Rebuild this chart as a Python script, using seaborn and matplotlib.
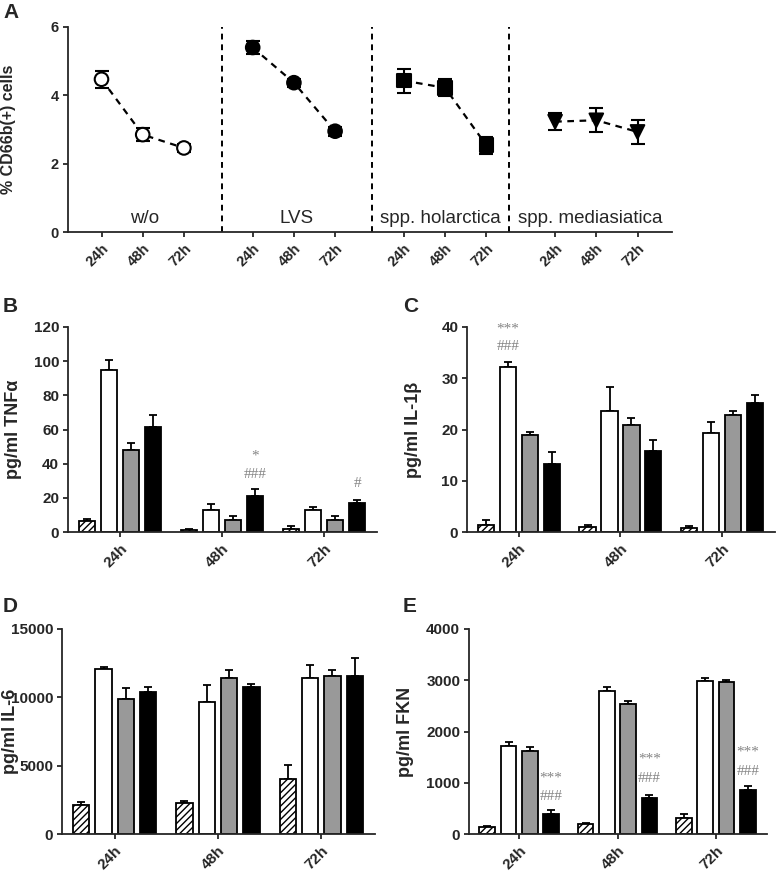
import numpy as np
import pandas as pd
import matplotlib
matplotlib.use('Agg')
import matplotlib.pyplot as plt
import seaborn as sns

# ---- data: panel A (% CD66b+ cells) ----
a_groups = ['w/o', 'LVS', 'spp. holarctica', 'spp. mediasiatica']
a_times = ['24h', '48h', '72h']
a_wo_mean = [4.47, 2.85, 2.46]
a_wo_err = [0.25, 0.20, 0.13]
a_lvs_mean = [5.40, 4.37, 2.95]
a_lvs_err = [0.18, 0.12, 0.13]
a_hol_mean = [4.43, 4.22, 2.54]
a_hol_err = [0.35, 0.25, 0.25]
a_med_mean = [3.23, 3.27, 2.93]
a_med_err = [0.25, 0.35, 0.34]

# ---- data: bar panels (rows = condition, cols = time) ----
times = ['24h', '48h', '72h']
conds = ['ctrl', 'w/o', 'LVS', 'holarctica']
tnf_mean = [[6.3, 1.0, 2.0], [94.9, 13.1, 12.7], [47.8, 7.1, 7.3], [61.2, 21.0, 17.0]]
tnf_err = [[1.5, 0.6, 1.7], [5.9, 3.1, 2.0], [4.1, 2.1, 2.3], [7.5, 3.9, 2.0]]
il1b_mean = [[1.4, 0.9, 0.85], [32.2, 23.7, 19.4], [19.0, 20.9, 22.8], [13.3, 15.9, 25.2]]
il1b_err = [[1.0, 0.4, 0.25], [1.0, 4.5, 2.1], [0.6, 1.3, 0.9], [2.4, 2.1, 1.6]]
il6_mean = [[2120, 2240, 4020], [12100, 9680, 11440], [9850, 11440, 11590], [10420, 10780, 11560]]
il6_err = [[220, 195, 1025], [150, 1240, 900], [830, 540, 440], [320, 195, 1320]]
fkn_mean = [[130, 195, 318], [1708, 2792, 2990], [1617, 2532, 2968], [390, 708, 864]]
fkn_err = [[20, 20, 78], [85, 85, 45], [90, 65, 45], [85, 58, 71]]

# significance marks: (condition index, time index, text, y)
tnf_marks = [(3, 1, '*', 44.5), (3, 1, '###', 33.7), (3, 2, '#', 28.5)]
il1b_marks = [(1, 0, '***', 39.6), (1, 0, '###', 36.2)]
fkn_marks = [(3, 0, '***', 1090), (3, 0, '###', 735), (3, 1, '***', 1460),
             (3, 1, '###', 1090), (3, 2, '***', 1590), (3, 2, '###', 1220)]

sns.set_style('ticks')
plt.rcParams['font.family'] = ['Liberation Sans', 'DejaVu Sans']
plt.rcParams['hatch.linewidth'] = 1.0
plt.rcParams['hatch.color'] = 'black'
plt.rcParams['axes.linewidth'] = 1.3
plt.rcParams['xtick.major.width'] = 1.3
plt.rcParams['ytick.major.width'] = 1.3
plt.rcParams['xtick.major.size'] = 3.8
plt.rcParams['ytick.major.size'] = 3.8
plt.rcParams['ytick.major.pad'] = 2.5
plt.rcParams['xtick.major.pad'] = 3

W, H = 778, 873
fig = plt.figure(figsize=(W / 100, H / 100), dpi=100)


def box(l, r, t, b):
    return [l / W, 1 - b / H, (r - l) / W, (b - t) / H]


def place_ylabel(ax, l, r, x_px):
    # x_px is the right edge of the rotated label, in figure pixels
    ax.yaxis.set_label_coords((x_px - l) / (r - l), 0.5)


# ---- panel A ----
aL, aR = 67.5, 672
axA = fig.add_axes(box(aL, aR, 27, 232))
offset = 3.67
means = [a_wo_mean, a_lvs_mean, a_hol_mean, a_med_mean]
errs = [a_wo_err, a_lvs_err, a_hol_err, a_med_err]
rows = []
for g, name in enumerate(a_groups):
    for t in range(3):
        rows.append({'x': g * offset + t, 'y': means[g][t], 'err': errs[g][t],
                     'group': name, 'time': a_times[t]})
dfa = pd.DataFrame(rows)

axA.errorbar(dfa['x'], dfa['y'], yerr=dfa['err'], fmt='none', ecolor='black',
             elinewidth=1.5, capsize=4.7, capthick=1.5, zorder=2)
sns.lineplot(data=dfa, x='x', y='y', units='group', estimator=None, color='black',
             lw=1.6, ax=axA, zorder=1, legend=False)
for ln in axA.get_lines():
    if ln.get_linestyle() == '-':
        ln.set_linestyle((0, (3, 2.5)))
sns.scatterplot(data=dfa, x='x', y='y', hue='group', style='group',
                markers={'w/o': 'o', 'LVS': 'o', 'spp. holarctica': 's', 'spp. mediasiatica': 'v'},
                palette={'w/o': 'white', 'LVS': 'black', 'spp. holarctica': 'black',
                         'spp. mediasiatica': 'black'},
                edgecolor='black', linewidth=1.5, s=95, ax=axA, zorder=3, legend=False)

sep_x = [2.92, 6.57, 9.89]
for sx in sep_x:
    axA.axvline(sx, color='black', linestyle=(0, (3, 2.5)), lw=1.4, zorder=0)
unit = 41.2
xl = ((aL - 101.5) / unit, (aR - 101.5) / unit)
bounds = [xl[0]] + sep_x + [xl[1]]
for g, name in enumerate(a_groups):
    axA.text((bounds[g] + bounds[g + 1]) / 2, 0.40, name, ha='center', va='center',
             fontsize=13.5)
axA.set_xlim(*xl)
axA.set_ylim(0, 6)
axA.set_yticks([0, 2, 4, 6])
axA.set_xticks(dfa['x'])
axA.set_xticklabels(dfa['time'], rotation=45, ha='right', rotation_mode='anchor',
                    fontsize=10.5, fontweight='bold')
axA.tick_params(axis='y', labelsize=10.5)
for lab in axA.get_yticklabels():
    lab.set_fontweight('bold')
axA.set_xlabel('')
axA.set_ylabel('% CD66b(+) cells', fontsize=11.5, fontweight='bold')
place_ylabel(axA, aL, aR, 16)
sns.despine(ax=axA)


# ---- bar panels ----
colors = ['white', 'white', '#999999', 'black']


def bar_panel(l, r, t, b, mean, err, ymax, step, ylabel, label_x, marks):
    ax = fig.add_axes(box(l, r, t, b))
    df = pd.DataFrame([{'time': times[j], 'cond': conds[i], 'value': mean[i][j]}
                       for i in range(4) for j in range(3)])
    sns.barplot(data=df, x='time', y='value', hue='cond', order=times, hue_order=conds,
                palette=colors, saturation=1, width=0.865, gap=0.27, edgecolor='black',
                linewidth=1.3, errorbar=None, legend=False, ax=ax, zorder=2)
    bars = sorted(ax.patches, key=lambda p: p.get_x())
    centers = {}
    for k, p in enumerate(bars):
        j, i = k // 4, k % 4
        cx = p.get_x() + p.get_width() / 2
        centers[(i, j)] = cx
        if i == 0:
            p.set_hatch('/////')
        ax.errorbar([cx], [p.get_height()], yerr=[[0], [err[i][j]]], fmt='none',
                    ecolor='black', elinewidth=1.3, capsize=3, capthick=1.3, zorder=1)
    for i, j, txt, y in marks:
        ax.text(centers[(i, j)], y, txt, ha='center', va='center', color='#858585',
                fontsize=11, family=['Liberation Serif', 'DejaVu Serif'])
    ax.set_xlim(-0.51, 2.52)
    ax.set_ylim(0, ymax)
    ax.set_yticks(np.arange(0, ymax + step / 2, step))
    ax.set_xticks(range(3))
    ax.set_xticklabels(times, rotation=45, ha='right', rotation_mode='anchor',
                       fontsize=11, fontweight='bold')
    ax.tick_params(axis='y', labelsize=11)
    for lab in ax.get_yticklabels():
        lab.set_fontweight('bold')
    ax.set_xlabel('')
    ax.set_ylabel(ylabel, fontsize=13, fontweight='bold')
    place_ylabel(ax, l, r, label_x)
    sns.despine(ax=ax)
    return ax


axB = bar_panel(68, 377, 327, 532, tnf_mean, tnf_err, 120, 20, 'pg/ml TNFα', 22, tnf_marks)
axC = bar_panel(467, 775, 327, 532, il1b_mean, il1b_err, 40, 10, 'pg/ml IL-1β', 422, il1b_marks)
axD = bar_panel(62, 375, 629, 834, il6_mean, il6_err, 15000, 5000, 'pg/ml IL-6', 19, [])
axE = bar_panel(469, 767, 629, 834, fkn_mean, fkn_err, 4000, 1000, 'pg/ml FKN', 414, fkn_marks)

# panel letters
for letter, x, y in [('A', 3, 12), ('B', 3, 306), ('C', 403, 306), ('D', 3, 606), ('E', 403, 606)]:
    fig.text(x / W, 1 - y / H, letter, fontsize=15, fontweight='bold', va='center', ha='left')

fig.savefig('out.png', dpi=100)
